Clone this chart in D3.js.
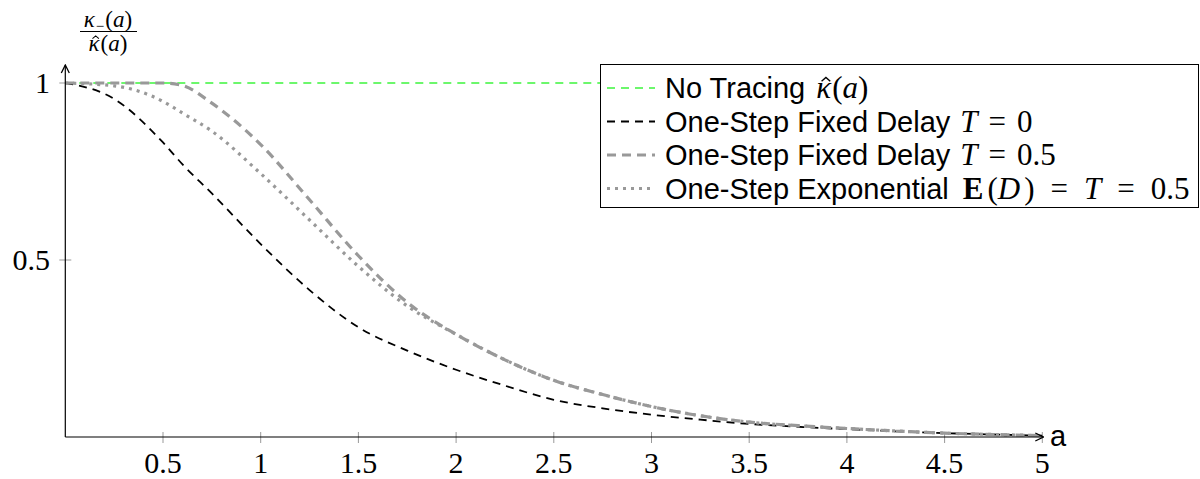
<!DOCTYPE html>
<html><head><meta charset="utf-8">
<script src="https://cdn.jsdelivr.net/npm/d3@7"></script>
<style>body{margin:0;background:#fff}svg{display:block}</style>
</head><body>
<svg id="c" width="1200" height="479"></svg>
<script>
// ---- data ----
const aGrid = [0, 0.25, 0.5, 0.6, 0.75, 1.0, 1.25, 1.5, 1.75, 2.0, 2.25, 2.5, 2.75, 3.0, 3.25, 3.5, 3.75, 4.0, 4.25, 4.5, 4.75, 5.0];
const noTracing   = [1,1,1,1,1,1,1,1,1,1,1,1,1,1,1,1,1,1,1,1,1,1];
const fixedT0     = [1, 0.955, 0.832, 0.77, 0.688, 0.545, 0.415, 0.31, 0.244, 0.19, 0.145, 0.105, 0.081, 0.063, 0.049, 0.037, 0.029, 0.022, 0.016, 0.011, 0.007, 0.004];
const fixedT05    = [1, 1, 1, 0.993, 0.943, 0.826, 0.67, 0.512, 0.38, 0.29, 0.218, 0.16, 0.12, 0.086, 0.06, 0.042, 0.032, 0.024, 0.017, 0.011, 0.007, 0.004];
const expT05      = [1, 0.992, 0.948, 0.915, 0.864, 0.744, 0.613, 0.482, 0.37, 0.29, 0.218, 0.16, 0.12, 0.086, 0.06, 0.042, 0.032, 0.024, 0.017, 0.011, 0.007, 0.004];
const xTicks = [0.5, 1, 1.5, 2, 2.5, 3, 3.5, 4, 4.5, 5];
const xTickLabels = ["0.5","1","1.5","2","2.5","3","3.5","4","4.5","5"];
const yTicks = [0.5, 1];
const yTickLabels = ["0.5","1"];

const svg = d3.select("#c");
const x = d3.scaleLinear().domain([0,5]).range([65.3,1042.3]);
const y = d3.scaleLinear().domain([0,1]).range([437,83]);
const serif = "'Liberation Serif', 'DejaVu Serif', serif";
const sans = "'Liberation Sans', Arial, sans-serif";

// ticks (crossing axes)
svg.append("g").selectAll("line").data(xTicks).join("line")
  .attr("x1", d=>x(d)).attr("x2", d=>x(d)).attr("y1", y(0)-5).attr("y2", y(0)+6)
  .attr("stroke","#999").attr("stroke-width",1);
svg.append("g").selectAll("line").data(yTicks).join("line")
  .attr("y1", d=>y(d)).attr("y2", d=>y(d)).attr("x1", x(0)-6).attr("x2", x(0)+6)
  .attr("stroke","#999").attr("stroke-width",1);

// tick labels
svg.append("g").selectAll("text").data(xTicks).join("text")
  .attr("x", d=>x(d)).attr("y", 473).attr("text-anchor","middle")
  .attr("font-family", serif).attr("font-size", 30)
  .text((d,i)=>xTickLabels[i]);
svg.append("g").selectAll("text").data(yTicks).join("text")
  .attr("x", 50).attr("y", d=>y(d)+10).attr("text-anchor","end")
  .attr("font-family", serif).attr("font-size", 30)
  .text((d,i)=>yTickLabels[i]);

// curves
const line = d3.line().x((d,i)=>x(aGrid[i])).y(d=>y(d)).curve(d3.curveMonotoneX);
const series = [
  {v: noTracing, color:"#3df53d", w:1.3, dash:"8,6"},
  {v: fixedT0,   color:"#000",    w:1.8, dash:"8,6"},
  {v: fixedT05,  color:"#999",    w:3.2, dash:"9,6"},
  {v: expT05,    color:"#999",    w:3.2, dash:"3,5"}
];
svg.append("g").selectAll("path").data(series).join("path")
  .attr("d", d=>line(d.v)).attr("fill","none")
  .attr("stroke", d=>d.color).attr("stroke-width", d=>d.w)
  .attr("stroke-dasharray", d=>d.dash);

// axes with arrows
const defs = svg.append("defs");
defs.append("marker").attr("id","arr").attr("viewBox","0 0 10 10")
  .attr("refX",9).attr("refY",5).attr("markerWidth",10).attr("markerHeight",10)
  .attr("markerUnits","userSpaceOnUse").attr("orient","auto")
  .append("path").attr("d","M1,1 L9,5 L1,9").attr("fill","none").attr("stroke","#000").attr("stroke-width",1.3);
svg.append("line").attr("x1", x(0)).attr("x2", x(5)+1).attr("y1", y(0)).attr("y2", y(0))
  .attr("stroke","#000").attr("stroke-width",1.2).attr("marker-end","url(#arr)");
svg.append("line").attr("x1", x(0)).attr("x2", x(0)).attr("y1", y(0)).attr("y2", 65)
  .attr("stroke","#000").attr("stroke-width",1.2).attr("marker-end","url(#arr)");

svg.append("text").attr("x", 1050).attr("y", 446).attr("font-family", sans).attr("font-size", 29).text("a");

// rich text helper: pieces {t, f, it, b, dx, dy, fs, hat}
function rich(g, x0, y0, pieces, baseSize, anchor) {
  const t = g.append("text").attr("x", x0).attr("y", y0).attr("font-size", baseSize);
  if (anchor) t.attr("text-anchor", anchor);
  const hats = [];
  let idx = 0;
  pieces.forEach(p => {
    const ts = t.append("tspan").attr("font-family", p.f || serif)
      .attr("font-style", p.it ? "italic" : "normal")
      .attr("font-weight", p.b ? "bold" : "normal")
      .attr("font-size", p.fs || baseSize).text(p.t);
    if (p.dx) ts.attr("dx", p.dx);
    if (p.dy) ts.attr("dy", p.dy);
    if (p.hat) hats.push({idx, fs: p.fs || baseSize});
    idx += p.t.length;
  });
  // circumflex accent drawn as a small stroke above the glyph
  hats.forEach(h => {
    const n = t.node();
    const s = n.getStartPositionOfChar(h.idx), e = n.getEndPositionOfChar(h.idx);
    const cx = (s.x + e.x) / 2 + h.fs * 0.07, top = s.y - h.fs * 0.66;
    const w = h.fs * 0.14, ht = h.fs * 0.12;
    g.append("path").attr("d", `M${cx-w},${top+ht} L${cx},${top} L${cx+w},${top+ht}`)
      .attr("fill","none").attr("stroke","#000").attr("stroke-width", h.fs*0.045);
  });
  return t;
}

// y-axis label (fraction)
const yl = svg.append("g");
rich(yl, 108, 27, [
  {t:"κ", it:true}, {t:"−", fs:15, dy:4, dx:1}, {t:"(", dy:-4, dx:1}, {t:"a", it:true}, {t:")"}
], 23, "middle");
yl.append("line").attr("x1",80).attr("x2",137).attr("y1",31.5).attr("y2",31.5).attr("stroke","#000").attr("stroke-width",1);
rich(yl, 108, 51, [
  {t:"κ", it:true, hat:true}, {t:"(", dx:1}, {t:"a", it:true}, {t:")"}
], 23, "middle");

// legend
const lg = svg.append("g");
lg.append("rect").attr("x",600.5).attr("y",64.5).attr("width",598).attr("height",143)
  .attr("fill","#fff").attr("stroke","#000").attr("stroke-width",1);
const legendItems = [
  [{t:"No Tracing ", f:sans}, {t:"κ", it:true, hat:true, dx:3}, {t:"(", dx:1}, {t:"a", it:true}, {t:")"}],
  [{t:"One-Step Fixed Delay ", f:sans}, {t:"T", it:true, dx:2}, {t:"=", dx:11}, {t:"0", dx:11}],
  [{t:"One-Step Fixed Delay ", f:sans}, {t:"T", it:true, dx:2}, {t:"=", dx:11}, {t:"0.5", dx:11}],
  [{t:"One-Step Exponential ", f:sans}, {t:"E", b:true, dx:6}, {t:"(", dx:4}, {t:"D", it:true}, {t:")", dx:4}, {t:"=", dx:16}, {t:"T", it:true, dx:16}, {t:"=", dx:16}, {t:"0.5", dx:16}]
];
const rowY = [88, 121.5, 155, 188.5];
series.forEach((s,i)=>{
  lg.append("line").attr("x1",607).attr("x2",655).attr("y1",rowY[i]).attr("y2",rowY[i])
    .attr("stroke",s.color).attr("stroke-width",s.w).attr("stroke-dasharray",s.dash);
  rich(lg, 665, rowY[i]+10, legendItems[i].map(p => p.f === sans ? p : Object.assign({fs:31}, p)), 29);
});
</script>
</body></html>
